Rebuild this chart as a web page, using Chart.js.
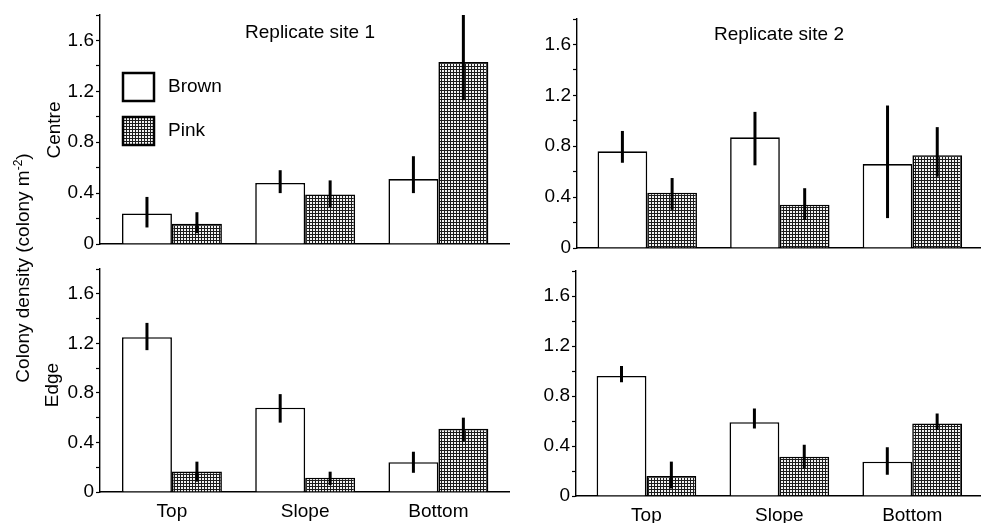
<!DOCTYPE html>
<html>
<head>
<meta charset="utf-8">
<script src="https://cdn.jsdelivr.net/npm/chart.js@4/dist/chart.umd.min.js"></script>
<style>
html,body{margin:0;padding:0;background:#fff;}
#wrap{position:relative;width:984px;height:523px;overflow:hidden;font-family:"Liberation Sans",Arial,sans-serif;color:#000;}
canvas{position:absolute;left:0;top:0;}
.t{position:absolute;white-space:nowrap;font-size:19px;line-height:19px;transform:translate(-50%,-50%);}
.r{transform:translate(-50%,-50%) rotate(-90deg);}
sup{font-size:12px;vertical-align:7px;line-height:0;}
</style>
</head>
<body>
<div id="wrap">
<canvas id="cTL" width="984" height="523"></canvas>
<canvas id="cBL" width="984" height="523"></canvas>
<canvas id="cTR" width="984" height="523"></canvas>
<canvas id="cBR" width="984" height="523"></canvas>
<div class="t" style="left:310px;top:31px">Replicate site 1</div>
<div class="t" style="left:779px;top:33px">Replicate site 2</div>
<div class="t r" style="left:22px;top:268px">Colony density (colony m<sup>-2</sup>)</div>
<div class="t r" style="left:53px;top:130px">Centre</div>
<div class="t r" style="left:51px;top:385px">Edge</div>
</div>
<script>
// ---- data ----
const categories = ['Top', 'Slope', 'Bottom'];
const seriesNames = ['Brown', 'Pink'];

const yTickValues = [0, 0.2, 0.4, 0.6, 0.8, 1.0, 1.2, 1.4, 1.6, 1.8];
const yMajorTicks = [0, 0.4, 0.8, 1.2, 1.6];
const yTickLabels = ['0', '0.4', '0.8', '1.2', '1.6'];

// Replicate site 1, Centre
const s1CentreBrown     = [0.24, 0.48, 0.51];
const s1CentreBrownLow  = [0.13, 0.40, 0.40];
const s1CentreBrownHigh = [0.37, 0.58, 0.69];
const s1CentrePink      = [0.16, 0.39, 1.43];
const s1CentrePinkLow   = [0.085, 0.29, 1.13];
const s1CentrePinkHigh  = [0.25, 0.50, 1.80];

// Replicate site 1, Edge
const s1EdgeBrown     = [1.25, 0.68, 0.24];
const s1EdgeBrownLow  = [1.145, 0.56, 0.155];
const s1EdgeBrownHigh = [1.365, 0.79, 0.325];
const s1EdgePink      = [0.165, 0.115, 0.51];
const s1EdgePinkLow   = [0.083, 0.056, 0.41];
const s1EdgePinkHigh  = [0.245, 0.164, 0.60];

// Replicate site 2, Centre
const s2CentreBrown     = [0.76, 0.87, 0.66];
const s2CentreBrownLow  = [0.67, 0.65, 0.235];
const s2CentreBrownHigh = [0.92, 1.07, 1.12];
const s2CentrePink      = [0.435, 0.34, 0.73];
const s2CentrePinkLow   = [0.30, 0.22, 0.56];
const s2CentrePinkHigh  = [0.55, 0.47, 0.95];

// Replicate site 2, Edge
const s2EdgeBrown     = [0.96, 0.59, 0.275];
const s2EdgeBrownLow  = [0.91, 0.54, 0.17];
const s2EdgeBrownHigh = [1.04, 0.70, 0.39];
const s2EdgePink      = [0.16, 0.315, 0.58];
const s2EdgePinkLow   = [0.06, 0.22, 0.53];
const s2EdgePinkHigh  = [0.275, 0.41, 0.66];

// ---- styles ----
const FONT = {family: '"Liberation Sans", Arial, sans-serif', size: 19};

function makePattern() {
  const c = document.createElement('canvas');
  c.width = 3; c.height = 3;
  const g = c.getContext('2d');
  g.fillStyle = '#f2f2f2'; g.fillRect(0, 0, 3, 3);
  g.fillStyle = '#1c1c1c';
  g.fillRect(0, 0, 3, 1);
  g.fillRect(0, 0, 1, 3);
  return g.createPattern(c, 'repeat');
}
const pinkFill = makePattern();

const errorBarPlugin = {
  id: 'errorBars',
  afterDatasetsDraw(chart) {
    const ctx = chart.ctx;
    const yScale = chart.scales.y;
    chart.data.datasets.forEach((ds, i) => {
      const meta = chart.getDatasetMeta(i);
      meta.data.forEach((el, j) => {
        const yLo = yScale.getPixelForValue(ds.errLow[j]);
        const yHi = yScale.getPixelForValue(ds.errHigh[j]);
        ctx.save();
        ctx.strokeStyle = '#000';
        ctx.lineWidth = 3;
        ctx.beginPath();
        ctx.moveTo(el.x, yLo);
        ctx.lineTo(el.x, yHi);
        ctx.stroke();
        ctx.restore();
      });
    });
  }
};

const boxLegendPlugin = {
  id: 'boxLegend',
  afterDraw(chart, args, opts) {
    if (!opts || !opts.show) return;
    const ctx = chart.ctx;
    const a = chart.chartArea;
    chart.data.datasets.forEach((ds, i) => {
      const x = a.left + 23, y = a.top + 58 + i * 44;
      ctx.save();
      ctx.fillStyle = ds.backgroundColor;
      ctx.fillRect(x, y, 31, 28);
      ctx.lineWidth = 2.5;
      ctx.strokeStyle = '#000';
      ctx.strokeRect(x, y, 31, 28);
      ctx.fillStyle = '#000';
      ctx.font = '19px "Liberation Sans", Arial, sans-serif';
      ctx.textBaseline = 'middle';
      ctx.fillText(ds.label, x + 45, y + 14);
      ctx.restore();
    });
  }
};

function yLabel(v) {
  const idx = yMajorTicks.findIndex(t => Math.abs(t - v) < 1e-6);
  return idx >= 0 ? yTickLabels[idx] : '';
}

function makePanel(id, rect, xRange, brown, brownLo, brownHi, pink, pinkLo, pinkHi, showX, showLegend) {
  const yW = 60;
  const xH = showX ? 30 : 1;
  new Chart(document.getElementById(id), {
    type: 'bar',
    data: {
      datasets: [
        {label: seriesNames[0], data: brown.map((v, i) => ({x: i + 0.5, y: v})),
         errLow: brownLo, errHigh: brownHi,
         backgroundColor: '#ffffff', borderColor: '#000', borderWidth: 1.6},
        {label: seriesNames[1], data: pink.map((v, i) => ({x: i + 0.5, y: v})),
         errLow: pinkLo, errHigh: pinkHi,
         backgroundColor: pinkFill, borderColor: '#000', borderWidth: 1.6}
      ]
    },
    options: {
      responsive: false,
      animation: false,
      devicePixelRatio: 1,
      categoryPercentage: 0.75,
      barPercentage: 1.0,
      layout: {padding: {left: rect.l - yW, top: rect.t, right: 984 - rect.r, bottom: 523 - rect.b - xH}},
      plugins: {legend: {display: false}, tooltip: {enabled: false}, boxLegend: {show: showLegend}},
      scales: {
        x: {
          type: 'linear', min: xRange[0], max: xRange[1], offset: false,
          afterBuildTicks: s => { s.ticks = categories.map((c, i) => ({value: i + 0.5})); },
          afterFit: s => { s.height = xH; },
          ticks: {display: showX, callback: (v, i) => categories[i], font: FONT, color: '#000',
                  padding: 8, maxRotation: 0, autoSkip: false},
          grid: {drawOnChartArea: false, drawTicks: false, offset: false},
          border: {display: true, color: '#000', width: 1.4}
        },
        y: {
          min: 0, max: 1.8,
          afterBuildTicks: s => { s.ticks = yTickValues.map(v => ({value: v})); },
          afterFit: s => { s.width = yW; },
          ticks: {callback: v => yLabel(v), font: FONT, color: '#000', padding: 2, autoSkip: false},
          grid: {drawOnChartArea: false, drawTicks: true, tickLength: 4, tickColor: '#000', tickWidth: 1.2},
          border: {display: true, color: '#000', width: 1.4}
        }
      }
    },
    plugins: [errorBarPlugin, boxLegendPlugin]
  });
}

makePanel('cTL', {l: 100, t: 15, r: 509, b: 244}, [-0.04, 3.03],
  s1CentreBrown, s1CentreBrownLow, s1CentreBrownHigh, s1CentrePink, s1CentrePinkLow, s1CentrePinkHigh, false, true);
makePanel('cBL', {l: 100, t: 269, r: 509, b: 492}, [-0.04, 3.03],
  s1EdgeBrown, s1EdgeBrownLow, s1EdgeBrownHigh, s1EdgePink, s1EdgePinkLow, s1EdgePinkHigh, true, false);
makePanel('cTR', {l: 577, t: 19, r: 980, b: 248}, [-0.03, 3.01],
  s2CentreBrown, s2CentreBrownLow, s2CentreBrownHigh, s2CentrePink, s2CentrePinkLow, s2CentrePinkHigh, false, false);
makePanel('cBR', {l: 576, t: 271, r: 980, b: 496}, [-0.03, 3.01],
  s2EdgeBrown, s2EdgeBrownLow, s2EdgeBrownHigh, s2EdgePink, s2EdgePinkLow, s2EdgePinkHigh, true, false);
</script>
</body>
</html>
